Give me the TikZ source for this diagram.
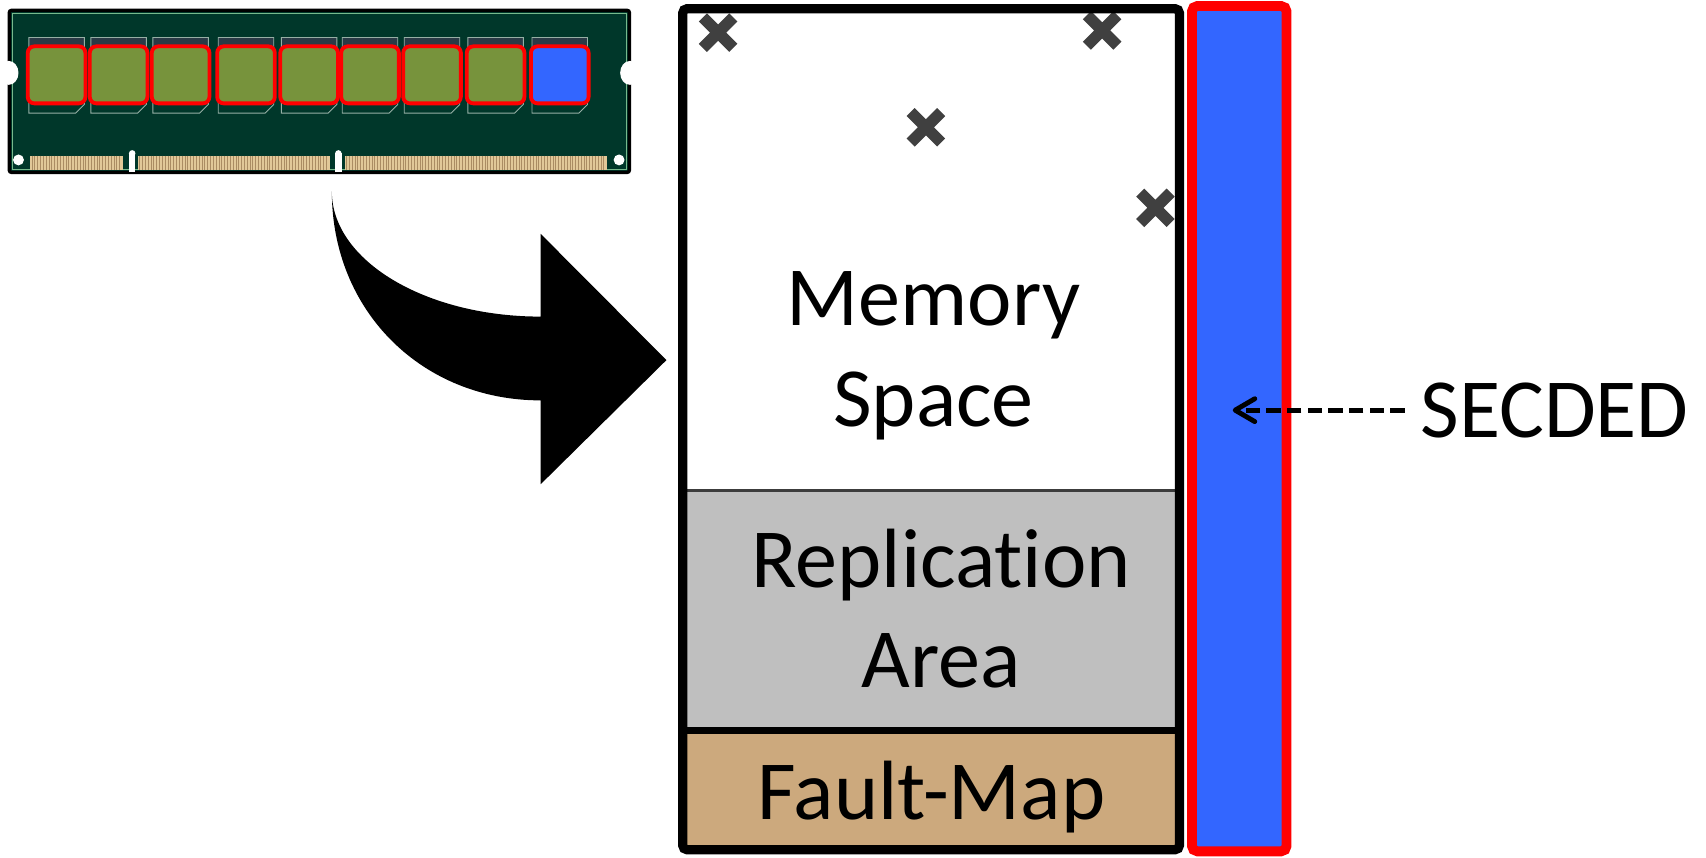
\documentclass[tikz,border=0pt]{standalone}
\usepackage{fontspec}
\setmainfont{Carlito}[Ligatures=NoCommon]
\usetikzlibrary{arrows.meta}
\definecolor{boardgreen}{RGB}{0,55,42}
\definecolor{boardedge}{RGB}{120,185,140}
\definecolor{chipolive}{RGB}{119,147,60}
\definecolor{chipblue}{RGB}{51,102,255}
\definecolor{pkgline}{RGB}{150,175,165}
\definecolor{pkgtop}{RGB}{42,58,70}
\definecolor{fingertan}{RGB}{225,200,152}
\definecolor{fingerline}{RGB}{170,140,98}
\definecolor{repgray}{RGB}{191,191,191}
\definecolor{faulttan}{RGB}{204,169,125}
\definecolor{markgray}{RGB}{64,64,64}
\definecolor{sepgray}{RGB}{60,60,60}

\begin{document}
\begin{tikzpicture}[x=0.1mm,y=-0.1mm,
  lbl/.style={font=\fontsize{22pt}{26.2pt}\selectfont, align=center, inner sep=0pt},
  chipbox/.style={draw=red, line width=0.35mm, rounded corners=0.6mm},
  pkg/.style={draw=pkgline, line width=0.08mm},
  xmark/.style={draw=markgray, line width=1.05mm},
  secbar/.style={draw=red, fill=chipblue, line width=0.9mm, rounded corners=0.5mm,
    inner sep=0pt, minimum width=8.7mm, minimum height=77.7mm},
  secarrow/.style={line width=0.45mm, dash pattern=on 1.3mm off 0.6mm,
    -{Straight Barb[round,length=1.8mm,width=2.1mm]}}]
\useasboundingbox (0,0) rectangle (1568,788);

% ---------- DIMM module ----------
\filldraw[fill=boardgreen, draw=black, line width=0.3mm, rounded corners=0.2mm]
  (8.5,9.5) rectangle (578.5,158.5);
\draw[boardedge, line width=0.12mm] (11.5,12.5) rectangle (575.5,155.5);
% side notches and mounting holes
\fill[white] (8,67) ellipse [x radius=9, y radius=11];
\fill[white] (579,67) ellipse [x radius=9, y radius=11];
\fill[white] (17,147) circle [radius=5];
\fill[white] (569,147) circle [radius=5];
% edge connector fingers
\fill[fingertan] (28,143) rectangle (113,156);
\fill[fingertan] (127,143) rectangle (303,156);
\fill[fingertan] (317,143) rectangle (558,156);
\foreach \x in {29.5,32.1,...,112} \draw[fingerline, line width=0.09mm] (\x,143) -- (\x,156);
\foreach \x in {128.5,131.1,...,302} \draw[fingerline, line width=0.09mm] (\x,143) -- (\x,156);
\foreach \x in {318.5,321.1,...,557} \draw[fingerline, line width=0.09mm] (\x,143) -- (\x,156);
% key posts
\fill[white] (121.5,141) circle [radius=3];
\fill[white] (118.5,141) rectangle (124.5,158);
\fill[white] (311,141) circle [radius=3];
\fill[white] (308,141) rectangle (314,158);
% memory chips: eight data chips and one ECC chip
\foreach \a [count=\i] in {25.5,82.5,139.5,199.6,257.6,313.6,370.6,429,488}{
  \ifnum\i<9 \def\cc{chipolive}\else\def\cc{chipblue}\fi
  \fill[pkgtop] (\a+1,34.5) rectangle (\a+52,44);
  \draw[pkg] (\a+1,34.5) -- (\a+52,34.5) -- (\a+52,96) -- (\a+44,104) -- (\a+1,104) -- cycle;
  \filldraw[chipbox, fill=\cc] (\a,42.6) rectangle (\a+53,95);
}

% ---------- curved transfer arrow ----------
\fill[black] (305,176) .. controls (305,286) and (388,368) .. (497,368)
  -- (497,445) -- (612.5,331) -- (497,215) -- (497,291)
  .. controls (391,291) and (305,239.5) .. (305,176) -- cycle;

% ---------- memory layout ----------
\fill[white] (627.5,8) rectangle (1084,451);
\fill[repgray] (627.5,451) rectangle (1084,671.5);
\fill[faulttan] (627.5,671.5) rectangle (1084,781);
\draw[sepgray, line width=0.3mm] (627.5,451) -- (1084,451);
\draw[black, line width=0.7mm] (627.5,671.5) -- (1084,671.5);

% faulty locations
\foreach \p in {(660,30),(1013,28),(851,117),(1062,191)}
  \draw[xmark] \p +(-14,-14) -- +(14,14) \p +(-14,14) -- +(14,-14);

\draw[black, line width=0.85mm, rounded corners=0.4mm] (627.5,8) rectangle (1084,781);

\node[lbl] (memtxt) at (858,327) {Memory\\Space};
\node[lbl] (reptxt) at (865,559) {Replication\\Area};
\node[lbl] (fmtxt) at (856,733) {Fault-Map};

% ---------- ECC bar ----------
\node[secbar] (bar) at (1139,394) {};
\coordinate (bartip) at (1133,377);
\node[font=\fontsize{22pt}{26.2pt}\selectfont, anchor=west, inner xsep=1.4mm, inner ysep=0pt]
  (secded) at (1291,377) {SECDED};
\draw[secarrow] (secded.west) -- (bartip);
\end{tikzpicture}
\end{document}
